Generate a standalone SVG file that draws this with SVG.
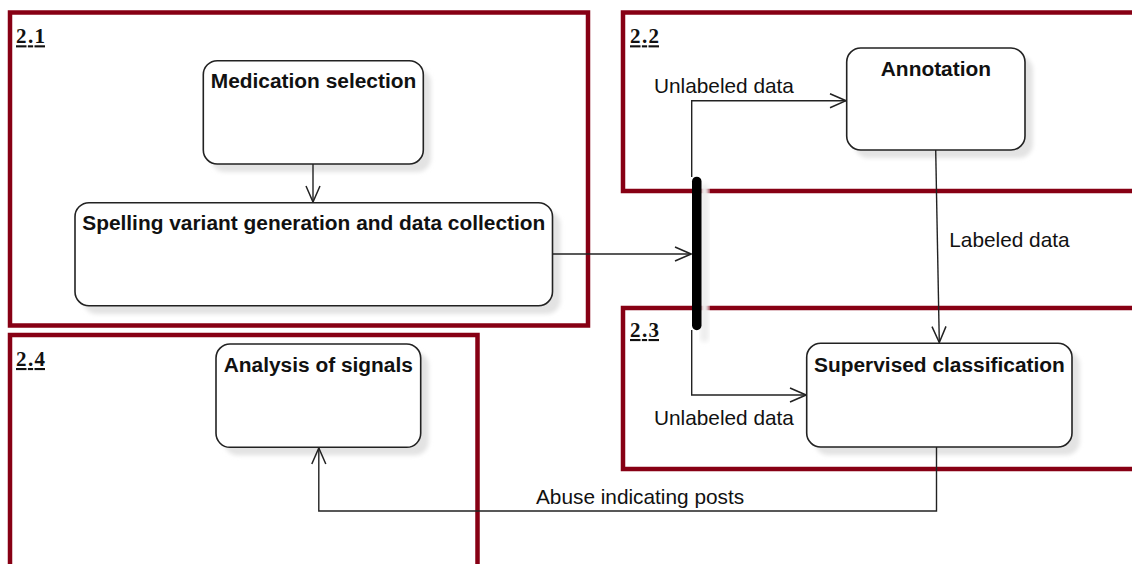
<svg xmlns="http://www.w3.org/2000/svg" width="1132" height="564" viewBox="0 0 1132 564">
<style>
.frame{fill:none;stroke:#870014;stroke-width:4.5}
.flabel{font-family:"Liberation Serif",serif;font-weight:bold;font-size:21px;fill:#111;text-decoration:underline}
.node{fill:#fff;stroke:#222;stroke-width:1.6}
.shadow{fill:#e3e3e3;filter:url(#blur)}
.ntext{font-family:"Liberation Sans",Arial,sans-serif;font-weight:bold;font-size:20.9px;fill:#111;text-anchor:middle}
.conn{fill:none;stroke:#222;stroke-width:1.4}
.ltext{font-family:"Liberation Sans",Arial,sans-serif;font-size:20.8px;fill:#111}
</style>
<defs>
<filter id="blur" x="-10%" y="-10%" width="120%" height="120%"><feGaussianBlur stdDeviation="2"/></filter>
<marker id="open" viewBox="0 0 18 16" refX="17" refY="8" markerWidth="18" markerHeight="16" markerUnits="userSpaceOnUse" orient="auto">
<path d="M1,1 L17,8 L1,15" fill="none" stroke="#222" stroke-width="1.5"/>
</marker>
</defs>
<rect width="1132" height="564" fill="#fff"/>

<g id="frame-2-1">
<rect class="frame" x="10" y="12.5" width="578" height="313"/>
<text class="flabel" x="16" y="43.3" textLength="29">2.1</text>
</g>
<g id="frame-2-2">
<rect class="frame" x="623" y="12.5" width="530" height="178.5"/>
<text class="flabel" x="630" y="43.3" textLength="29">2.2</text>
</g>
<g id="frame-2-3">
<rect class="frame" x="623" y="308" width="530" height="161"/>
<text class="flabel" x="630" y="337" textLength="29">2.3</text>
</g>
<g id="frame-2-4">
<rect class="frame" x="10" y="335" width="467.5" height="240"/>
<text class="flabel" x="16" y="366" textLength="29">2.4</text>
</g>

<g id="medication-selection">
<rect class="shadow" x="211" y="69" width="220" height="103" rx="14"/>
<rect class="node" x="203.3" y="60.7" width="220" height="103.3" rx="14"/>
<text class="ntext" x="313.5" y="88.3">Medication selection</text>
</g>
<g id="spelling-variant">
<rect class="shadow" x="83" y="211" width="477.5" height="103" rx="14"/>
<rect class="node" x="75" y="202.7" width="477.5" height="103" rx="14"/>
<text class="ntext" x="313.8" y="230">Spelling variant generation and data collection</text>
</g>
<g id="annotation">
<rect class="shadow" x="854.5" y="56" width="178.3" height="102" rx="14"/>
<rect class="node" x="846.7" y="48" width="178.3" height="102" rx="14"/>
<text class="ntext" x="935.9" y="76">Annotation</text>
</g>
<g id="supervised-classification">
<rect class="shadow" x="814.5" y="351" width="265.3" height="104" rx="14"/>
<rect class="node" x="806.7" y="343.3" width="265.3" height="103.7" rx="14"/>
<text class="ntext" x="939.4" y="372">Supervised classification</text>
</g>
<g id="analysis-of-signals">
<rect class="shadow" x="224" y="352" width="204.7" height="103.3" rx="14"/>
<rect class="node" x="216" y="344" width="204.7" height="103.3" rx="14"/>
<text class="ntext" x="318.3" y="371.7">Analysis of signals</text>
</g>
<g id="fork-bar">
<rect x="700" y="184" width="9" height="158" rx="4.5" fill="#eeeeee" filter="url(#blur)"/>
<rect x="692" y="176.7" width="9.5" height="153.5" rx="4.75" fill="#000"/>
</g>

<g id="connectors">
<path class="conn" d="M313,164 V202" marker-end="url(#open)"/>
<path class="conn" d="M552.5,254 H691" marker-end="url(#open)"/>
<path class="conn" d="M691.7,177 V100.7 H846" marker-end="url(#open)"/>
<path class="conn" d="M691.7,330 V395 H806" marker-end="url(#open)"/>
<path class="conn" d="M935.7,150 L939.3,342.5" marker-end="url(#open)"/>
<path class="conn" d="M936.5,447 V511 H318.8 V448" marker-end="url(#open)"/>
<text class="ltext" x="654" y="93.3">Unlabeled data</text>
<text class="ltext" x="654" y="425">Unlabeled data</text>
<text class="ltext" x="949.3" y="247.3">Labeled data</text>
<text class="ltext" x="536" y="504.3">Abuse indicating posts</text>
</g>
</svg>
